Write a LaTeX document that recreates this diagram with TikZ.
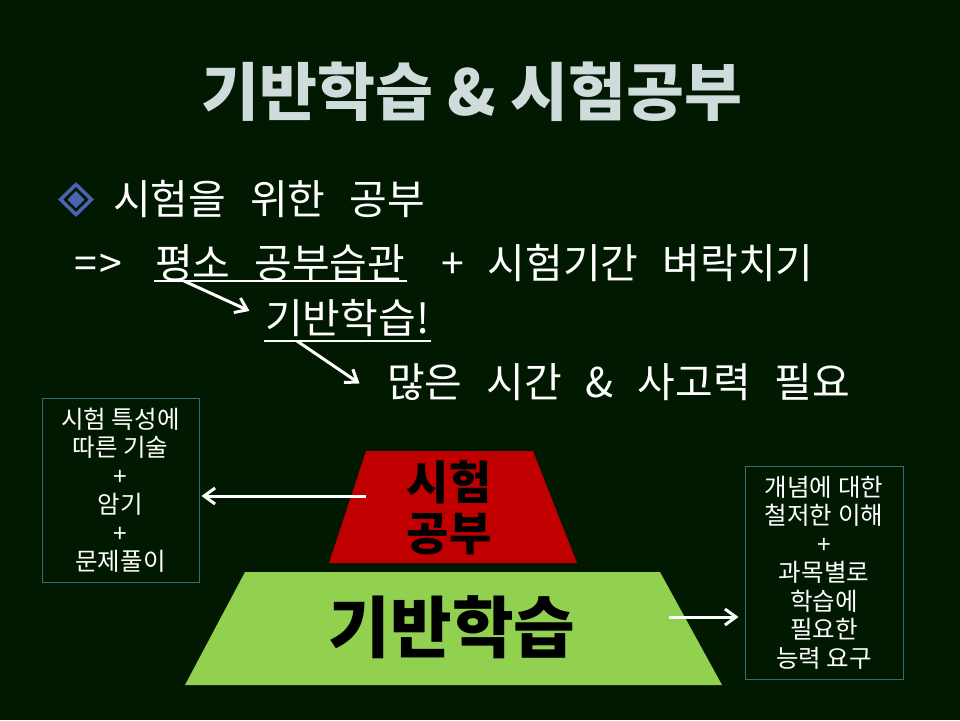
\documentclass[tikz,border=0pt]{standalone}
\usepackage{fontspec}
\setmainfont{Noto Sans CJK KR}
\newfontfamily\slidefont{Noto Sans CJK KR}[WordSpace=2.6]
\usetikzlibrary{positioning,arrows.meta}
\definecolor{slidebg}{RGB}{1,24,1}
\definecolor{titlegray}{RGB}{208,220,220}
\definecolor{bulletblue}{RGB}{74,100,180}
\definecolor{examred}{RGB}{192,0,0}
\definecolor{basegreen}{RGB}{146,208,80}
\definecolor{boxteal}{RGB}{49,110,124}
\tikzset{
  slidetxt/.style={text=white, font=\slidefont\fontsize{41}{46}\selectfont, inner sep=1pt},
  sidebox/.style={draw=boxteal, line width=1pt, text=white, align=center,
    font=\fontsize{24.5}{28.5}\selectfont, inner sep=0pt},
  wharrow/.style={draw=white, line width=3pt, -{Straight Barb[length=11pt,width=16pt]}},
  uline/.style={draw=white, line width=1.5pt}
}

\begin{document}
\begin{tikzpicture}[x=1pt, y=-1pt]
      \fill[slidebg] (0,0) rectangle (960,720);
      \useasboundingbox (0,0) rectangle (960,720);
      % title
      \node[text=titlegray, font=\fontsize{63}{70}\selectfont\bfseries] (title) at (472,92) {기반학습 \& 시험공부};
      % bullet
      \draw[bulletblue, line width=3.5pt] (76,184.5) -- (91.5,199.5) -- (76,214.5) -- (60.5,199.5) -- cycle;
      \fill[bulletblue] (76,191) -- (84.5,199.5) -- (76,208) -- (67.5,199.5) -- cycle;
      \node[slidetxt, anchor=base west] (aim)   at (112,214) {시험을 위한 공부};
      \node[slidetxt, anchor=base west] (imply) at (73,278)  {=\kern3pt>};
      \node[slidetxt, anchor=base west] (habit) at (154,278) {평소 공부습관};
      \node[slidetxt, anchor=base west] (cram)  at (440,278) {+ 시험기간 벼락치기};
      \node[slidetxt, anchor=base west] (basic) at (264,333) {기반학습!};
      \node[slidetxt, anchor=base west] (need)  at (386,397) {많은 시간 \& 사고력 필요};
      \draw[uline] ([yshift=-3pt]habit.base west) -- ([yshift=-3pt]habit.base east);
      \draw[uline] ([yshift=-8pt]basic.base west) -- ([yshift=-8pt]basic.base east);
      \draw[wharrow, line width=3pt, shorten >=16pt] ([xshift=30pt,yshift=-3pt]habit.base west) -- (basic.west);
      \draw[wharrow, line width=3pt, shorten >=32pt] ([xshift=33pt,yshift=-8pt]basic.base west) -- (need.south west);
      % pyramid
      \fill[examred] (366,451) -- (533,451) -- (577,563) -- (329,563) -- cycle;
      \fill[basegreen] (245,572) -- (660,572) -- (722,685) -- (185,685) -- cycle;
      \node[font=\fontsize{46}{51}\selectfont\bfseries, align=center] (exam) at (449,508) {시험\\공부};
      \node[font=\fontsize{67}{72}\selectfont\bfseries] (base) at (452,627) {기반학습};
      % side boxes
      \node[sidebox, minimum width=157pt, minimum height=184pt] (tips) at (120.5,490)
        {시험 특성에\\따른 기술\\+\\암기\\+\\문제풀이};
      \node[sidebox, minimum width=158pt, minimum height=213pt] (ability) at (824,572.5)
        {개념에 대한\\철저한 이해\\+\\과목별로\\학습에\\필요한\\능력 요구};
      \coordinate (examtail) at (366,496);
      \coordinate (basetail) at (669,617);
      \draw[wharrow, shorten >=2pt] (examtail) -- (examtail -| tips.east);
      \draw[wharrow, shorten >=6pt] (basetail) -- (basetail -| ability.west);
    \end{tikzpicture}
\end{document}
